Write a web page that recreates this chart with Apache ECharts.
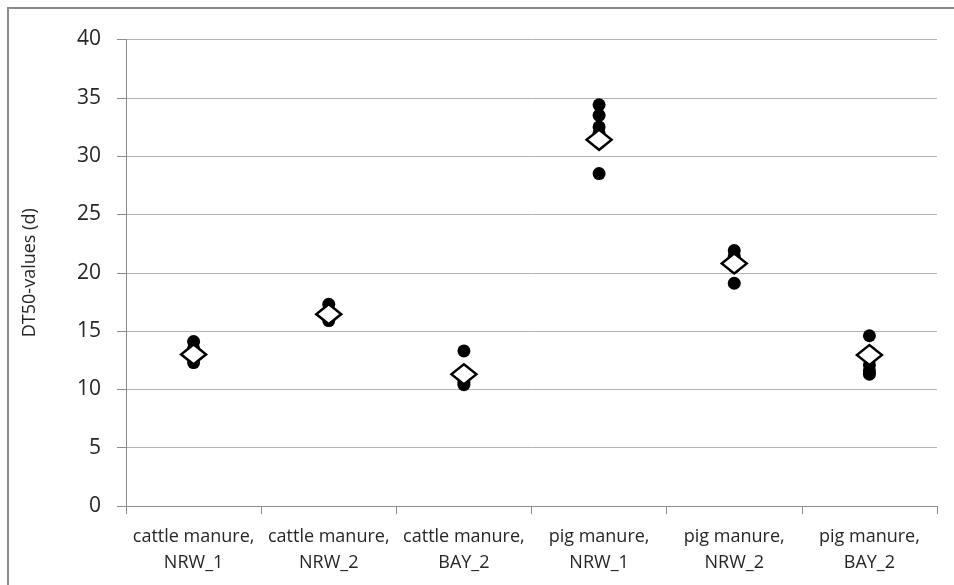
<!DOCTYPE html>
<html>
<head>
<meta charset="utf-8">
<script src="https://cdn.jsdelivr.net/npm/echarts@6/dist/echarts.min.js"></script>
<style>
  html, body { margin: 0; padding: 0; background: #ffffff; }
  #chart { width: 954px; height: 585px; }
</style>
</head>
<body>
<div id="chart"></div>
<script>
// Sites / manure types along the x axis
const categories = [
  'cattle manure,\nNRW_1',
  'cattle manure,\nNRW_2',
  'cattle manure,\nBAY_2',
  'pig manure,\nNRW_1',
  'pig manure,\nNRW_2',
  'pig manure,\nBAY_2'
];

// Individual DT50 values (d) per category
const cattleNRW1 = [14.1, 13.5, 12.7, 12.3];
const cattleNRW2 = [17.3, 16.7, 16.2, 15.9];
const cattleBAY2 = [13.3, 10.9, 10.6, 10.4];
const pigNRW1 = [34.4, 33.5, 32.5, 32.0, 28.5];
const pigNRW2 = [21.9, 21.4, 20.8, 20.5, 19.1];
const pigBAY2 = [14.6, 12.1, 11.6, 11.3];

// Summary value per category (open diamond)
const summaryValues = [13.0, 16.45, 11.3, 31.4, 20.8, 12.95];

// Y axis ticks
const yTicks = [0, 5, 10, 15, 20, 25, 30, 35, 40];

const replicateGroups = [cattleNRW1, cattleNRW2, cattleBAY2, pigNRW1, pigNRW2, pigBAY2];
const replicatePoints = [];
replicateGroups.forEach((vals, i) => {
  vals.forEach(v => replicatePoints.push([i, v]));
});
const summaryPoints = summaryValues.map((v, i) => [i, v]);

const chart = echarts.init(document.getElementById('chart'), null, { renderer: 'canvas' });

const labelFont = '"Open Sans", "Liberation Sans", sans-serif';

chart.setOption({
  backgroundColor: '#ffffff',
  animation: false,
  graphic: [{
    type: 'rect',
    shape: { x: 8, y: 8, width: 960, height: 600 },
    style: { fill: 'none', stroke: '#8c8c8c', lineWidth: 2 },
    z: 0
  }],
  grid: { left: 126, right: 17, top: 39.5, bottom: 79 },
  xAxis: {
    type: 'category',
    data: categories,
    boundaryGap: true,
    axisLine: { lineStyle: { color: '#8c8c8c', width: 1 } },
    axisTick: { show: true, length: 8, lineStyle: { color: '#8c8c8c' } },
    axisLabel: {
      interval: 0,
      color: '#262626',
      fontSize: 18,
      lineHeight: 26,
      margin: 18,
      fontFamily: labelFont
    },
    splitLine: { show: false }
  },
  yAxis: {
    type: 'value',
    min: yTicks[0],
    max: yTicks[yTicks.length - 1],
    interval: 5,
    name: 'DT50-values (d)',
    nameLocation: 'middle',
    nameGap: 87,
    nameRotate: 90,
    nameTextStyle: { color: '#262626', fontSize: 18, fontFamily: labelFont },
    axisLine: { show: true, lineStyle: { color: '#8c8c8c', width: 1 } },
    axisTick: { show: true, length: 9, lineStyle: { color: '#8c8c8c' } },
    axisLabel: {
      color: '#262626',
      fontSize: 21,
      margin: 25,
      fontFamily: labelFont
    },
    splitLine: { show: true, lineStyle: { color: '#b4b4b4', width: 1 } }
  },
  series: [
    {
      name: 'DT50',
      type: 'scatter',
      data: replicatePoints,
      symbol: 'circle',
      symbolSize: 13,
      itemStyle: { color: '#000000', opacity: 1 },
      z: 3
    },
    {
      name: 'summary',
      type: 'scatter',
      data: summaryPoints,
      symbol: 'diamond',
      symbolSize: [25, 20],
      itemStyle: { color: '#ffffff', borderColor: '#000000', borderWidth: 2.5, opacity: 1 },
      z: 4
    }
  ]
});
</script>
</body>
</html>
